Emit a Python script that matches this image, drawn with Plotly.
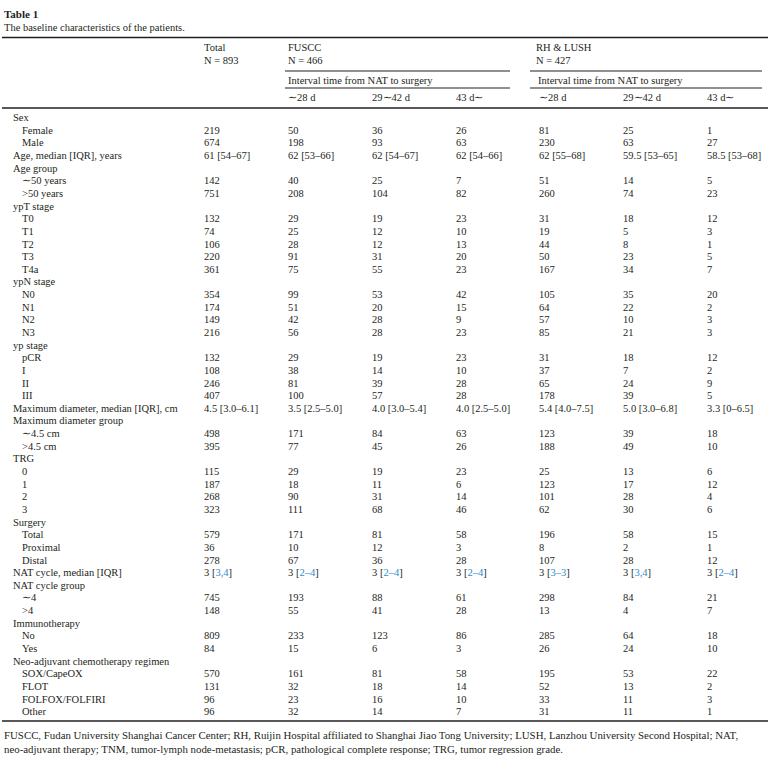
import re
import plotly.graph_objects as go

# Данные таблицы
labels = [
    "Sex", "Female", "Male", "Age, median [IQR], years",
    "Age group", "∼50 years", ">50 years",
    "ypT stage", "T0", "T1", "T2", "T3", "T4a",
    "ypN stage", "N0", "N1", "N2", "N3",
    "yp stage", "pCR", "I", "II", "III",
    "Maximum diameter, median [IQR], cm",
    "Maximum diameter group", "∼4.5 cm", ">4.5 cm",
    "TRG", "0", "1", "2", "3",
    "Surgery", "Total", "Proximal", "Distal",
    "NAT cycle, median [IQR]",
    "NAT cycle group", "∼4", ">4",
    "Immunotherapy", "No", "Yes",
    "Neo-adjuvant chemotherapy regimen", "SOX/CapeOX", "FLOT", "FOLFOX/FOLFIRI", "Other",
]
levels = [0, 1, 1, 0,
          0, 1, 1,
          0, 1, 1, 1, 1, 1,
          0, 1, 1, 1, 1,
          0, 1, 1, 1, 1,
          0,
          0, 1, 1,
          0, 1, 1, 1, 1,
          0, 1, 1, 1,
          0,
          0, 1, 1,
          0, 1, 1,
          0, 1, 1, 1, 1]

total = ["", "219", "674", "61 [54–67]", "", "142", "751", "", "132", "74", "106", "220", "361",
         "", "354", "174", "149", "216", "", "132", "108", "246", "407", "4.5 [3.0–6.1]",
         "", "498", "395", "", "115", "187", "268", "323", "", "579", "36", "278", "3 [3,4]",
         "", "745", "148", "", "809", "84", "", "570", "131", "96", "96"]
fuscc_28 = ["", "50", "198", "62 [53–66]", "", "40", "208", "", "29", "25", "28", "91", "75",
            "", "99", "51", "42", "56", "", "29", "38", "81", "100", "3.5 [2.5–5.0]",
            "", "171", "77", "", "29", "18", "90", "111", "", "171", "10", "67", "3 [2–4]",
            "", "193", "55", "", "233", "15", "", "161", "32", "23", "32"]
fuscc_42 = ["", "36", "93", "62 [54–67]", "", "25", "104", "", "19", "12", "12", "31", "55",
            "", "53", "20", "28", "28", "", "19", "14", "39", "57", "4.0 [3.0–5.4]",
            "", "84", "45", "", "19", "11", "31", "68", "", "81", "12", "36", "3 [2–4]",
            "", "88", "41", "", "123", "6", "", "81", "18", "16", "14"]
fuscc_43 = ["", "26", "63", "62 [54–66]", "", "7", "82", "", "23", "10", "13", "20", "23",
            "", "42", "15", "9", "23", "", "23", "10", "28", "28", "4.0 [2.5–5.0]",
            "", "63", "26", "", "23", "6", "14", "46", "", "58", "3", "28", "3 [2–4]",
            "", "61", "28", "", "86", "3", "", "58", "14", "10", "7"]
rh_28 = ["", "81", "230", "62 [55–68]", "", "51", "260", "", "31", "19", "44", "50", "167",
         "", "105", "64", "57", "85", "", "31", "37", "65", "178", "5.4 [4.0–7.5]",
         "", "123", "188", "", "25", "123", "101", "62", "", "196", "8", "107", "3 [3–3]",
         "", "298", "13", "", "285", "26", "", "195", "52", "33", "31"]
rh_42 = ["", "25", "63", "59.5 [53–65]", "", "14", "74", "", "18", "5", "8", "23", "34",
         "", "35", "22", "10", "21", "", "18", "7", "24", "39", "5.0 [3.0–6.8]",
         "", "39", "49", "", "13", "17", "28", "30", "", "58", "2", "28", "3 [3,4]",
         "", "84", "4", "", "64", "24", "", "53", "13", "11", "11"]
rh_43 = ["", "1", "27", "58.5 [53–68]", "", "5", "23", "", "12", "3", "1", "5", "7",
         "", "20", "2", "3", "3", "", "12", "2", "9", "5", "3.3 [0–6.5]",
         "", "18", "10", "", "6", "12", "4", "6", "", "15", "1", "12", "3 [2–4]",
         "", "21", "7", "", "18", "10", "", "22", "2", "3", "1"]

columns = [total, fuscc_28, fuscc_42, fuscc_43, rh_28, rh_42, rh_43]
interval_labels = ["∼28 d", "29∼42 d", "43 d∼"]

title = "Table 1"
subtitle = "The baseline characteristics of the patients."
footnote = [
    "FUSCC, Fudan University Shanghai Cancer Center; RH, Ruijin Hospital affiliated to Shanghai Jiao Tong University; LUSH, Lanzhou University Second Hospital; NAT,",
    "neo-adjuvant therapy; TNM, tumor-lymph node-metastasis; pCR, pathological complete response; TRG, tumor regression grade.",
]

# Геометрия (в пикселях)
W, H = 772, 763
col_x = [202, 286, 370, 454, 537, 621, 705]
label_x = [11, 20]
row_y0, row_h = 117.6, 12.64
ink = "#231f20"
blue = "#2e8bcf"
FONT = "Liberation Serif"
fs = 10.5

fig = go.Figure()
ann = []


def text(x, y, s, size=fs, bold=False, color=ink):
    if bold:
        s = "<b>" + s + "</b>"
    ann.append(dict(x=x, y=y, text=s, showarrow=False, xanchor="left", yanchor="middle",
                    font=dict(family=FONT, size=size, color=color)))


def rule(x0, x1, y, w=1.0):
    fig.add_shape(type="line", x0=x0, x1=x1, y0=y, y1=y,
                  line=dict(color=ink, width=w))


# Заголовок
text(2, 13.5, title, size=11, bold=True)
text(2, 27, subtitle, size=fs)

# Шапка таблицы
text(202, 47.5, "Total")
text(202, 60, "N = 893")
text(286, 47.5, "FUSCC")
text(286, 60, "N = 466")
text(534, 47.5, "RH &amp; LUSH")
text(534, 60, "N = 427")
text(286, 80, "Interval time from NAT to surgery")
text(536, 80, "Interval time from NAT to surgery")
for k, lab in enumerate(interval_labels):
    text(col_x[1 + k], 97.5, lab)
    text(col_x[4 + k], 97.5, lab)

rule(2, 768, 37.5, 1.6)
rule(285, 510, 71, 1.0)
rule(530, 762, 71, 1.0)
rule(285, 510, 88, 1.0)
rule(530, 762, 88, 1.0)
rule(2, 768, 108, 1.6)

# Строки
for i, lab in enumerate(labels):
    y = row_y0 + i * row_h
    text(label_x[levels[i]], y, lab)
    for j, col in enumerate(columns):
        v = col[i]
        if not v:
            continue
        if lab.startswith("NAT cycle, median"):
            v = re.sub(r"\[(.*)\]", lambda m: "[<span style='color:%s'>%s</span>]" % (blue, m.group(1)), v)
        text(col_x[j], y, v)

rule(2, 768, 721, 1.6)

# Примечание
text(2, 734.5, footnote[0], size=10.85)
text(2, 748.5, footnote[1], size=10.85)

fig.update_layout(
    width=W, height=H,
    margin=dict(l=0, r=0, t=0, b=0),
    paper_bgcolor="white", plot_bgcolor="white",
    xaxis=dict(range=[0, W], visible=False, fixedrange=True),
    yaxis=dict(range=[H, 0], visible=False, fixedrange=True),
    annotations=ann,
    showlegend=False,
)

fig.write_html("out.html", config={"displayModeBar": False},
               post_script="document.body.style.margin='0';document.body.style.overflow='hidden';")
